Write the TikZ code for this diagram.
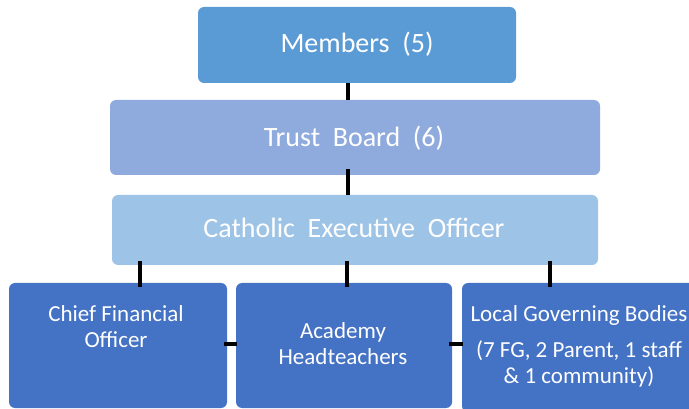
\documentclass[tikz,border=0pt]{standalone}
\usepackage{fontspec}
\setmainfont{Carlito}
\definecolor{cMem}{HTML}{5B9BD5}
\definecolor{cTrust}{HTML}{8FAADC}
\definecolor{cCeo}{HTML}{9DC3E6}
\definecolor{cLow}{HTML}{4472C4}
\begin{document}
\begin{tikzpicture}[x=1pt,y=-1pt,
  boxa/.style={rounded corners=6pt,inner sep=0pt,outer sep=0pt},
  lbl/.style={text=white,inner sep=0pt,anchor=base,align=center},
  big/.style={font=\fontsize{28}{30}\selectfont},
  small/.style={font=\fontsize{23}{26}\selectfont},
  conn/.style={line width=3.6pt,black}]
\useasboundingbox (0,0) rectangle (689,409);
% boxes
\fill[cMem,boxa] (198,7) rectangle (516,83);
\node[boxa,minimum width=318pt,minimum height=76pt] (mem) at (357,45) {};
\fill[cTrust,boxa] (110,100) rectangle (600,175);
\node[boxa,minimum width=490pt,minimum height=75pt] (trust) at (355,137.5) {};
\fill[cCeo,boxa] (112,195) rectangle (598,265);
\node[boxa,minimum width=486pt,minimum height=70pt] (ceo) at (355,230) {};
\fill[cLow,boxa] (9,283) rectangle (227,408);
\node[boxa,minimum width=218pt,minimum height=125pt] (cfo) at (118,345.5) {};
\fill[cLow,boxa] (236,283) rectangle (452,408);
\node[boxa,minimum width=216pt,minimum height=125pt] (aca) at (344,345.5) {};
\fill[cLow,boxa] (462,283) rectangle (696,412);
\node[boxa,minimum width=234pt,minimum height=129pt] (lgb) at (579,347.5) {};
% connectors
\draw[conn] (mem.south -| 348,0) -- (trust.north -| 348,0);
\draw[conn] ([yshift=6pt]trust.south -| 348,0) -- (ceo.north -| 348,0);
\draw[conn] ([yshift=4pt]ceo.south -| 140,0) -- ([yshift=-4pt]cfo.north -| 140,0);
\draw[conn] ([yshift=4pt]ceo.south -| 347,0) -- ([yshift=-4pt]aca.north -| 347,0);
\draw[conn] ([yshift=4pt]ceo.south -| 550,0) -- ([yshift=-4pt]lgb.north -| 550,0);
\draw[conn,line width=4.2pt] ([xshift=-3pt]cfo.east |- 0,344) -- ([xshift=1pt]aca.west |- 0,344);
\draw[conn,line width=4.2pt] ([xshift=-3pt]aca.east |- 0,344) -- ([xshift=1pt]lgb.west |- 0,344);
% labels
\node[lbl,big] (tmem) at (357,53) {Members\ \ (5)};
\node[lbl,big] (ttrust) at (354,147) {Trust\ \ Board\ \ (6)};
\node[lbl,big] (tceo) at (354,238) {Catholic\ \ Executive\ \ Officer};
\node[lbl,small] (tcfo) at (116,347) {Chief Financial\\Officer};
\node[lbl,small] (taca) at (343,364) {Academy\\Headteachers};
\node[lbl,small] (tlgb) at (579,383) {Local Governing Bodies\\[10pt](7 FG, 2 Parent, 1 staff\\\& 1 community)};
\end{tikzpicture}
\end{document}
